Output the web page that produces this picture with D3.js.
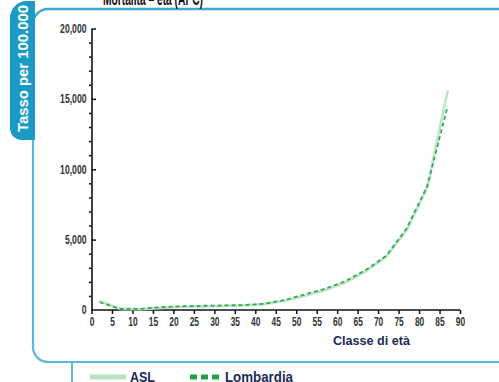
<!DOCTYPE html>
<html><head><meta charset="utf-8">
<script src="https://cdn.jsdelivr.net/npm/d3@7"></script>
<style>
html,body{margin:0;padding:0;background:#fff;overflow:hidden}
svg{display:block}
text{font-family:"Liberation Sans",Arial,sans-serif}
</style></head>
<body>
<svg id="c" width="499" height="382"></svg>
<script>
const ages = [2,7,12,17,22,27,32,37,42,47,52,57,62,67,72,77,82,87];
const aslValues = [650,80,60,150,230,250,280,320,420,650,1000,1400,1950,2750,3800,5700,8700,15600];
const lombardiaValues = [550,70,80,200,260,300,320,350,430,700,1100,1500,2050,2850,3850,5800,8800,14500];
const xTicks = d3.range(0,91,5);
const yTicks = [0,5000,10000,15000,20000];
const yMinorTicks = d3.range(1000,20000,1000).filter(v=>v%5000!==0);
const title = "Mortalità – età (APC)";
const yTitle = "Tasso per 100.000";
const xTitle = "Classe di età";
const seriesNames = ["ASL","Lombardia"];

const svg = d3.select("#c");
const x = d3.scaleLinear().domain([0,90]).range([91.5,460]);
const y = d3.scaleLinear().domain([0,20000]).range([310,28.5]);

function condense(sel, f){
  sel.each(function(){
    const w = this.getComputedTextLength();
    d3.select(this).attr("textLength", w*f).attr("lengthAdjust","spacingAndGlyphs");
  });
}
function fitTo(sel, w){
  sel.attr("textLength", w).attr("lengthAdjust","spacingAndGlyphs");
}

// frame
svg.append("path")
  .attr("d","M33,140 L33,347 A15,15 0 0 0 48,362 L520,362")
  .attr("fill","none").attr("stroke","#5ab8da").attr("stroke-width",2.2);
svg.append("path")
  .attr("d","M33,24 A15,15 0 0 1 48,9 L520,9")
  .attr("fill","none").attr("stroke","#3ea9cf").attr("stroke-width",2.4);
svg.append("line").attr("x1",72).attr("x2",72).attr("y1",362).attr("y2",382)
  .attr("stroke","#5ab8da").attr("stroke-width",2);
// tab
svg.append("path")
  .attr("d","M35,1 L27,1 A17,17 0 0 0 10,18 L10,128 A12,12 0 0 0 22,140 L35,140 Z")
  .attr("fill","#1b9ac6");
const yt = svg.append("text")
  .attr("transform","translate(27.5,132) rotate(-90)")
  .attr("fill","#fff").attr("font-weight","bold").attr("font-size",14)
  .text(yTitle);
fitTo(yt,127);

// title (clipped at top)
const tt = svg.append("text").attr("x",103).attr("y",5)
  .attr("font-weight","bold").attr("font-size",18).attr("fill","#111")
  .text(title);
fitTo(tt,100);

// axes
const gx = svg.append("g").attr("transform","translate(0,310)")
  .call(d3.axisBottom(x).tickValues(xTicks).tickSize(4).tickPadding(3).tickSizeOuter(0));
const gy = svg.append("g").attr("transform","translate(91.5,0)")
  .call(d3.axisLeft(y).tickValues(yTicks).tickSize(4.5).tickPadding(0).tickSizeOuter(0)
    .tickFormat(d3.format(",")));
gy.selectAll(".tick line").attr("x2",4.5);
gy.selectAll(".tick").filter(d=>d===0).select("line").attr("x2",0);
gy.selectAll(".tick text").attr("x",-5);
const gm = svg.append("g").attr("transform","translate(91.5,0)")
  .call(d3.axisLeft(y).tickValues(yMinorTicks).tickSize(2.5).tickFormat(""));
gm.select(".domain").remove();
[gx,gy,gm].forEach(g=>{
  g.selectAll(".domain").attr("stroke","#111").attr("stroke-width",1.6);
  g.selectAll(".tick line").attr("stroke","#111").attr("stroke-width",1.5);
  g.selectAll("text").attr("font-size",12).attr("fill","#333").attr("font-weight","bold")
    .attr("font-family","Liberation Sans, Arial, sans-serif");
});
condense(gx.selectAll(".tick text"),0.7);
condense(gy.selectAll(".tick text"),0.72);
gx.select(".domain").attr("d","M91.5,0H460");

// lines
const line = d3.line().x((d,i)=>x(ages[i])).y(d=>y(d));
svg.append("path").datum(aslValues).attr("d",line)
  .attr("fill","none").attr("stroke","#bde5c6").attr("stroke-width",2.6);
svg.append("path").datum(lombardiaValues).attr("d",line)
  .attr("fill","none").attr("stroke","#34ab52").attr("stroke-width",1.8)
  .attr("stroke-dasharray","4,3");

// x title
const xt = svg.append("text").attr("x",410).attr("y",345).attr("text-anchor","end")
  .attr("font-weight","bold").attr("font-size",13.5).attr("fill","#1c2a55").text(xTitle);
fitTo(xt,77);

// legend
svg.append("line").attr("x1",90).attr("x2",126).attr("y1",377).attr("y2",377)
  .attr("stroke","#b8e2c1").attr("stroke-width",5);
const l1 = svg.append("text").attr("x",130).attr("y",382)
  .attr("font-weight","bold").attr("font-size",14).attr("fill","#1c2a55").text(seriesNames[0]);
fitTo(l1,25);
svg.append("line").attr("x1",190).attr("x2",223).attr("y1",377).attr("y2",377)
  .attr("stroke","#22a246").attr("stroke-width",5).attr("stroke-dasharray","7,4");
const l2 = svg.append("text").attr("x",225).attr("y",382)
  .attr("font-weight","bold").attr("font-size",14).attr("fill","#1c2a55").text(seriesNames[1]);
fitTo(l2,68);
</script>
</body></html>
